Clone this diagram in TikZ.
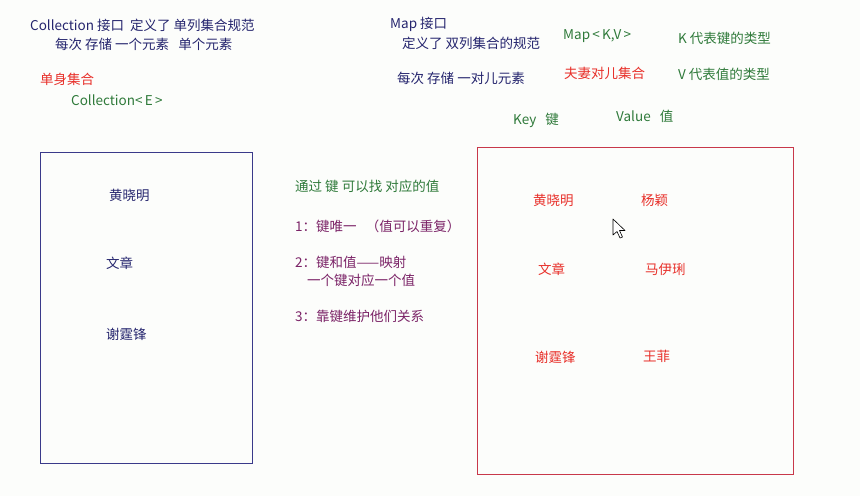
\documentclass[tikz,border=0pt]{standalone}
\usepackage{fontspec}
\setmainfont{Noto Sans CJK SC}
\definecolor{navy}{HTML}{25256E}
\definecolor{grn}{HTML}{2F7A3A}
\definecolor{rd}{HTML}{E8302A}
\definecolor{purp}{HTML}{7B2367}
\definecolor{bg}{HTML}{FCFDFB}
\definecolor{boxnavy}{HTML}{3A3A8A}
\definecolor{boxred}{HTML}{C8384A}
\tikzset{
  txt/.style={anchor=west,inner sep=0pt,font=\fontsize{13.5}{15}\selectfont},
  tnavy/.style={txt,text=navy},
  tgrn/.style={txt,text=grn},
  trd/.style={txt,text=rd},
  tpurp/.style={txt,text=purp},
  frame/.style={line width=0.9pt}
}
\begin{document}
\begin{tikzpicture}[x=1pt,y=-1pt]
\fill[bg] (0,0) rectangle (860,496);
\useasboundingbox (0,0) rectangle (860,496);
% top-left
\node[tnavy] (c1) at (30,25) {Collection 接口\ \ 定义了 单列集合规范};
\node[tnavy] (c2) at (55,44) {每次 存储 一个元素\ \ \ 单个元素};
\node[trd] (c3) at (40,79) {单身集合};
\node[tgrn] (c4) at (71,100) {Collection<\,E\,>};
% top-right
\node[tnavy] (m1) at (390,24) {Map 接口};
\node[tnavy] (m2) at (402,43) {定义了 双列集合的规范};
\node[tnavy] (m3) at (397,78) {每次 存储 一对儿元素};
\node[tgrn] (m4) at (563,36) {Map\,<\,K,V\,>};
\node[tgrn] (m5) at (678,38) {K 代表键的类型};
\node[trd] (m6) at (564,73) {夫妻对儿集合};
\node[tgrn] (m7) at (678,74) {V 代表值的类型};
\node[tgrn] (k1) at (513,120) {Key\ \ \ 键};
\node[tgrn] (v1) at (616,116) {Value\ \ \ 值};
% left box
\draw[frame,boxnavy] (40,152) rectangle (252,463);
\node[tnavy] (l1) at (109,195) {黄晓明};
\node[tnavy] (l2) at (106,263) {文章};
\node[tnavy] (l3) at (106,334) {谢霆锋};
% middle
\node[tgrn] (t0) at (295,186) {通过 键 可以找 对应的值};
\node[tpurp] (t1) at (295,226) {1：键唯一\ \ \ （值可以重复）};
\node[tpurp] (t2) at (295,262) {2：键和值——映射};
\node[tpurp] (t3) at (307,280) {一个键对应一个值};
\node[tpurp] (t4) at (295,316) {3：靠键维护他们关系};
% right box
\draw[frame,boxred] (477,147) rectangle (793,474);
\node[trd] (r1) at (533,200) {黄晓明};
\node[trd] (r2) at (641,200) {杨颖};
\node[trd] (r3) at (538,269) {文章};
\node[trd] (r4) at (645,269) {马伊琍};
\node[trd] (r5) at (535,357) {谢霆锋};
\node[trd] (r6) at (643,356) {王菲};
% mouse cursor
\draw[black,fill=white,line width=0.6pt,line join=round]
  (613,219) -- (613,235) -- (617,231.5) -- (620,238) -- (622.5,237) -- (619.5,230.5) -- (625,230.5) -- cycle;
\end{tikzpicture}
\end{document}
